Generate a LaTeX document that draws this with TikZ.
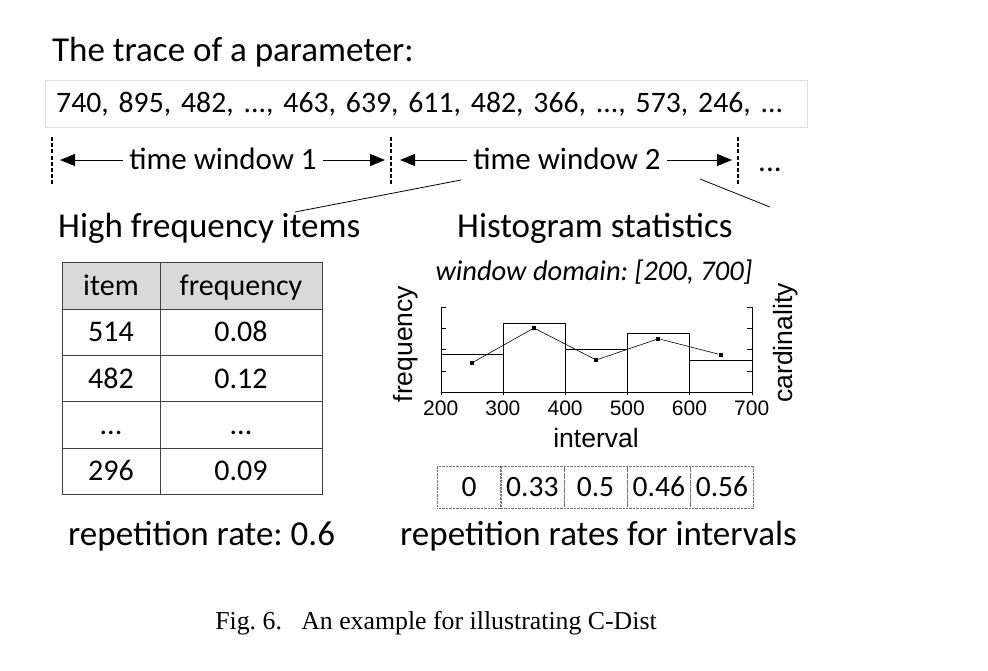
\documentclass[tikz,border=0pt]{standalone}
\usepackage{fontspec}
\setmainfont{Carlito}
\newfontfamily\chartfont{Liberation Sans}
\newfontfamily\capfont{Liberation Serif}
\usetikzlibrary{arrows.meta, positioning}
\frenchspacing

\begin{document}
\begin{tikzpicture}[x=1pt, y=-1pt,
    heading/.style={anchor=base west, inner sep=0pt, font=\fontsize{35}{40}\selectfont},
    itemcell/.style={draw=black!75, minimum width=98pt, minimum height=46.4pt, inner sep=0pt,
                     text height=22pt, text depth=2.5pt, font=\fontsize{30}{34}\selectfont},
    freqcell/.style={itemcell, minimum width=162pt},
    ratecell/.style={draw=black!55, densely dotted, minimum width=63.2pt, minimum height=42pt, inner sep=0pt,
                     text height=22pt, text depth=2.5pt, font=\fontsize{29.5}{34}\selectfont},
    winlabel/.style={inner sep=6pt, text height=21pt, text depth=3pt, font=\fontsize{31}{36}\selectfont},
    winarrow/.style={-{Triangle[length=15pt, width=12pt]}, thick},
    bound/.style={dash pattern=on 4pt off 2.2pt, line width=1.6pt},
    ticklabel/.style={inner sep=0pt, font=\chartfont\fontsize{21}{24}\selectfont},
    axislabel/.style={inner sep=0pt, font=\chartfont\fontsize{26.5}{30}\selectfont},
    dot/.style={fill=black, minimum size=4pt, inner sep=0pt}
]
\useasboundingbox (0,0) rectangle (988,670);

% the trace
\node[heading] (title) at (52,61.7) {The trace of a parameter:};
\node[draw=black!12, anchor=north west, minimum width=762pt, minimum height=47pt,
      inner xsep=11pt, text width=740pt, align=left, text height=22pt, text depth=4pt,
      font=\fontsize{29.7}{34}\selectfont]
      (trace) at (45,80) {740, 895, 482, ..., 463, 639, 611, 482, 366, ..., 573, 246, ...};

% window bounds
\coordinate (b1t) at (52,137);  \coordinate (b1b) at (52,186);
\coordinate (b2t) at (391,137); \coordinate (b2b) at (391,186);
\coordinate (b3t) at (738,137); \coordinate (b3b) at (738,186);
\draw[bound] (b1t) -- (b1b);
\draw[bound] (b2t) -- (b2b);
\draw[bound] (b3t) -- (b3b);

% time windows
\node[winlabel] (tw1) at (223,160) {time window 1};
\node[winlabel] (tw2) at (567,160) {time window 2};
\coordinate (tw1l) at (60,160);  \coordinate (tw1r) at (385,160);
\coordinate (tw2l) at (400,160); \coordinate (tw2r) at (732,160);
\draw[winarrow] (tw1.west) -- (tw1l);
\draw[winarrow] (tw1.east) -- (tw1r);
\draw[winarrow] (tw2.west) -- (tw2l);
\draw[winarrow] (tw2.east) -- (tw2r);
\node[heading, font=\fontsize{31}{36}\selectfont] (more) at (758,171) {...};

% zoom lines
\coordinate (zl1) at (461,180); \coordinate (zl2) at (295,212);
\coordinate (zr1) at (700,179); \coordinate (zr2) at (770,207);
\draw[thick] (zl1) -- (zl2);
\draw[thick] (zr1) -- (zr2);

% headings
\node[heading] (hfi) at (58,237) {High frequency items};
\node[heading] (hist) at (457,237) {Histogram statistics};

% table of high frequency items
\node[itemcell, fill=black!15] (h1) at (111,285.5) {item};
\node[freqcell, fill=black!15] (h2) at (241,285.5) {frequency};
\node[itemcell] (a1) at (111,332) {514};
\node[freqcell] (a2) at (241,332) {0.08};
\node[itemcell] (b1) at (111,378.4) {482};
\node[freqcell] (b2) at (241,378.4) {0.12};
\node[itemcell] (c1) at (111,424.8) {...};
\node[freqcell] (c2) at (241,424.8) {...};
\node[itemcell] (d1) at (111,471.2) {296};
\node[freqcell] (d2) at (241,471.2) {0.09};
\node[heading] (rr) at (68,545) {repetition rate: 0.6};

% histogram
\node[anchor=base, inner sep=0pt, font=\itshape\fontsize{28.5}{32}\selectfont] (dom) at (594,280) {window domain: [200, 700]};
\foreach \a/\h in {0/354.3, 1/322.7, 2/349.3, 3/333.3, 4/359.7}
  \draw (440.7+62.2*\a,392) rectangle (502.9+62.2*\a,\h);
\draw (440.7,307) -- (440.7,395) (440.7,392) -- (751.7,392) (751.7,395) -- (751.7,307);
\foreach \y in {307, 328.2, 349.5, 370.8} {
  \draw (440.7,\y) -- (445.7,\y);
  \draw (751.7,\y) -- (746.7,\y);
}
\foreach \a in {1,...,4}
  \draw (440.7+62.2*\a,392) -- (440.7+62.2*\a,395);
\foreach \v [count=\a from 0] in {200,300,400,500,600,700}
  \node[ticklabel] (t\v) at (440.7+62.2*\a,408) {\v};
\foreach \i/\v in {1/363, 2/328, 3/360, 4/338.7, 5/354.7}
  \node[dot] (p\i) at (409.6+62.2*\i,\v) {};
\draw[semithick] (p1) -- (p2) -- (p3) -- (p4) -- (p5);
\node[axislabel, rotate=90] (ylab) at (406,344) {frequency};
\node[axislabel, rotate=90] (zlab) at (786,343) {cardinality};
\node[axislabel] (xlab) at (596,438) {interval};

% repetition rates
\node[ratecell] (r1) at (469,487) {0};
\node[ratecell] (r2) at (532.3,487) {0.33};
\node[ratecell] (r3) at (595.5,487) {0.5};
\node[ratecell] (r4) at (658.8,487) {0.46};
\node[ratecell] (r5) at (722,487) {0.56};
\node[heading] (rrs) at (400,545) {repetition rates for intervals};

% caption
\node[anchor=base, inner sep=0pt, font=\capfont\fontsize{25.8}{30}\selectfont] (cap) at (436,629) {Fig.~6.\enspace\ An example for illustrating C-Dist};
\end{tikzpicture}
\end{document}
